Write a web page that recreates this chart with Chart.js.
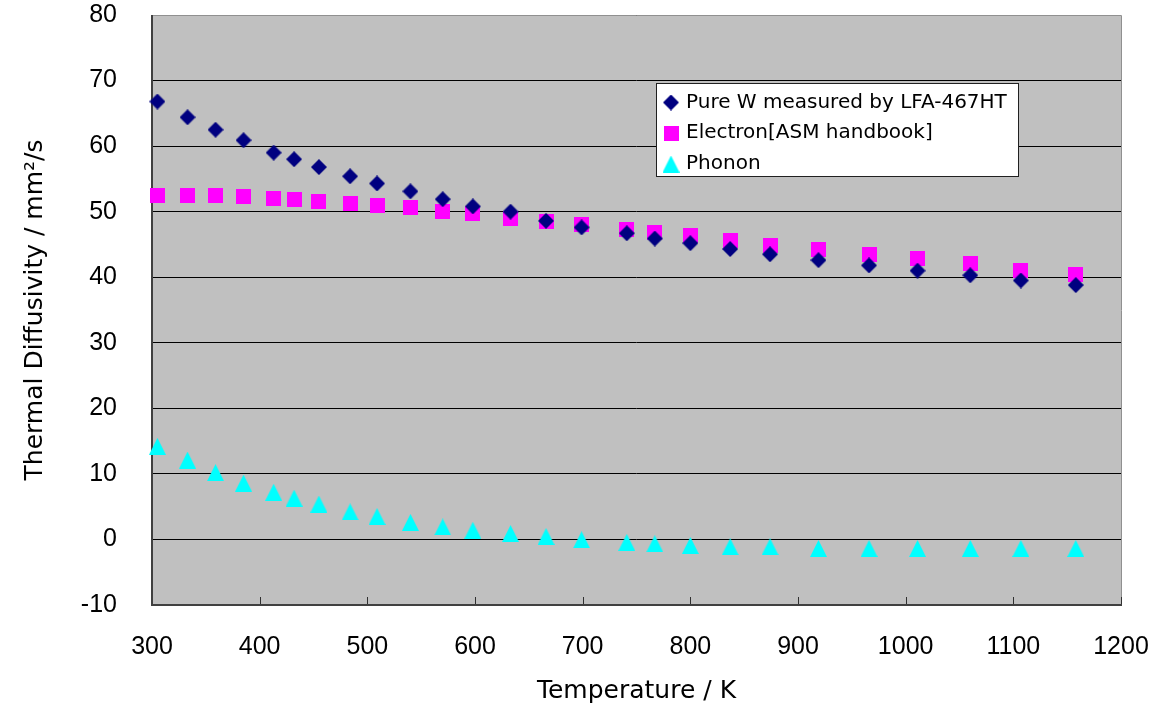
<!DOCTYPE html>
<html>
<head>
<meta charset="utf-8">
<script src="https://cdn.jsdelivr.net/npm/chart.js@4.4.0/dist/chart.umd.min.js"></script>
<style>
  html, body { margin: 0; padding: 0; background: #fff; }
  #wrap { width: 1153px; height: 710px; }
</style>
</head>
<body>
<div id="wrap"><canvas id="chart" width="1153" height="710"></canvas></div>
<script>
// temperature (K) of each measurement
const temperature = [305, 333, 359, 385, 413, 432, 455, 484, 509, 540, 570, 598, 633,
  666, 699, 741, 767, 800, 837, 874, 919, 966, 1011, 1060, 1107, 1158];

// thermal diffusivity, mm2/s
const measured = [66.8, 64.4, 62.5, 60.9, 59.0, 58.0, 56.8, 55.4, 54.3, 53.1, 51.9, 50.8, 50.0,
  48.6, 47.6, 46.7, 45.9, 45.2, 44.3, 43.5, 42.6, 41.8, 41.0, 40.3, 39.5, 38.8];
const electron = [52.5, 52.5, 52.5, 52.3, 52.0, 51.8, 51.6, 51.3, 50.9, 50.6, 50.1, 49.7, 48.9,
  48.5, 48.0, 47.3, 46.8, 46.4, 45.6, 44.9, 44.2, 43.5, 42.8, 42.1, 41.1, 40.4];
const phonon = [14.2, 12.1, 10.2, 8.6, 7.2, 6.3, 5.4, 4.2, 3.5, 2.6, 1.9, 1.4, 0.9,
  0.45, -0.05, -0.45, -0.66, -0.92, -1.12, -1.12, -1.38, -1.38, -1.38, -1.38, -1.38, -1.38];

const seriesNames = ["Pure W measured by LFA-467HT", "Electron[ASM handbook]", "Phonon"];
const seriesColours = ["#000080", "#FF00FF", "#00FFFF"];
const xRange = [300, 1200];
const yRange = [-10, 80];

// Excel-like markers drawn to small canvases
function marker(shape, colour) {
  const s = shape === "square" ? 15 : shape === "triangle" ? 17 : 16;
  const c = document.createElement("canvas");
  c.width = s;
  c.height = s;
  const g = c.getContext("2d");
  g.fillStyle = colour;
  g.beginPath();
  if (shape === "diamond") {
    g.moveTo(s / 2, 0); g.lineTo(s, s / 2); g.lineTo(s / 2, s); g.lineTo(0, s / 2);
  } else if (shape === "triangle") {
    g.moveTo(s / 2, 0); g.lineTo(s, s); g.lineTo(0, s);
  } else {
    g.rect(0, 0, s, s);
  }
  g.closePath();
  g.fill();
  return c;
}

const markers = [
  marker("diamond", seriesColours[0]),
  marker("square", seriesColours[1]),
  marker("triangle", seriesColours[2]),
];

const points = (values) => values.map((v, i) => ({ x: temperature[i], y: v }));

const plotFrame = {
  id: "plotFrame",
  beforeDraw(chart) {
    const { ctx, chartArea: a } = chart;
    ctx.save();
    ctx.fillStyle = "#C0C0C0";
    ctx.fillRect(a.left, a.top, a.right - a.left, a.bottom - a.top);
    ctx.restore();
  },
  beforeDatasetsDraw(chart) {
    const { ctx, chartArea: a } = chart;
    const x = chart.scales.x;
    ctx.save();
    // top and right edge
    ctx.strokeStyle = "#909090";
    ctx.lineWidth = 1;
    ctx.beginPath();
    ctx.moveTo(a.left, a.top + 0.5);
    ctx.lineTo(a.right + 0.5, a.top + 0.5);
    ctx.lineTo(a.right + 0.5, a.bottom);
    ctx.stroke();
    // x tick marks pointing inward
    ctx.strokeStyle = "#303030";
    ctx.beginPath();
    x.ticks.forEach((t) => {
      const px = Math.round(x.getPixelForValue(t.value)) + 0.5;
      ctx.moveTo(px, a.bottom);
      ctx.lineTo(px, a.bottom - 8);
    });
    ctx.stroke();
    // left and bottom axis
    ctx.strokeStyle = "#404040";
    ctx.lineWidth = 2;
    ctx.beginPath();
    ctx.moveTo(a.left, a.top);
    ctx.lineTo(a.left, a.bottom);
    ctx.lineTo(a.right + 1, a.bottom);
    ctx.stroke();
    ctx.restore();
  },
};

const legendBox = {
  id: "legendBox",
  afterDraw(chart) {
    const { ctx, chartArea: a } = chart;
    const left = Math.round(a.left + (a.right - a.left) * 0.5206) + 0.5;
    const top = Math.round(a.top + 67.5) + 0.5;
    const width = 362, height = 93;
    ctx.save();
    ctx.fillStyle = "#fff";
    ctx.fillRect(left, top, width, height);
    ctx.strokeStyle = "#202020";
    ctx.lineWidth = 1;
    ctx.strokeRect(left, top, width, height);
    ctx.font = "20px 'DejaVu Sans'";
    ctx.fillStyle = "#000";
    ctx.textBaseline = "middle";
    chart.data.datasets.forEach((ds, i) => {
      const y = top + 19 + i * 30.75;
      const m = ds.pointStyle;
      ctx.drawImage(m, left + 14.5 - m.width / 2, y - m.height / 2);
      ctx.fillText(ds.label, left + 29.5, y);
    });
    ctx.restore();
  },
};

new Chart(document.getElementById("chart").getContext("2d"), {
  type: "scatter",
  data: {
    datasets: [measured, electron, phonon].map((values, i) => ({
      label: seriesNames[i],
      data: points(values),
      pointStyle: markers[i],
      backgroundColor: seriesColours[i],
      borderColor: seriesColours[i],
      clip: false,
    })),
  },
  options: {
    responsive: false,
    animation: false,
    events: [],
    layout: { padding: { top: 15, right: 32, left: 0, bottom: 0 } },
    plugins: {
      legend: { display: false },
      tooltip: { enabled: false },
    },
    scales: {
      x: {
        type: "linear",
        min: xRange[0],
        max: xRange[1],
        afterFit: (s) => {
          s.height = 105;
          s.paddingLeft = 0;
          s.paddingRight = 0;
        },
        ticks: {
          stepSize: 100,
          padding: 27,
          color: "#000",
          font: { family: "'Liberation Sans'", size: 25 },
          callback: (v) => String(v),
        },
        grid: { display: false, drawTicks: false },
        border: { display: false },
        title: {
          display: true,
          text: "Temperature / K",
          color: "#000",
          font: { family: "'DejaVu Sans'", size: 25 },
          padding: { top: 0, bottom: 4 },
        },
      },
      y: {
        min: yRange[0],
        max: yRange[1],
        afterFit: (s) => {
          s.width = 152;
          s.paddingTop = 0;
          s.paddingBottom = 0;
        },
        ticks: {
          stepSize: 10,
          padding: 35,
          color: "#000",
          font: { family: "'Liberation Sans'", size: 25 },
          callback: (v) => String(v),
        },
        grid: { color: "#000", lineWidth: 1, drawTicks: false },
        border: { display: false },
        title: {
          display: true,
          text: "Thermal Diffusivity / mm²/s",
          color: "#000",
          font: { family: "'DejaVu Sans'", size: 25 },
          padding: { top: 20, bottom: 0 },
        },
      },
    },
  },
  plugins: [plotFrame, legendBox],
});
</script>
</body>
</html>
